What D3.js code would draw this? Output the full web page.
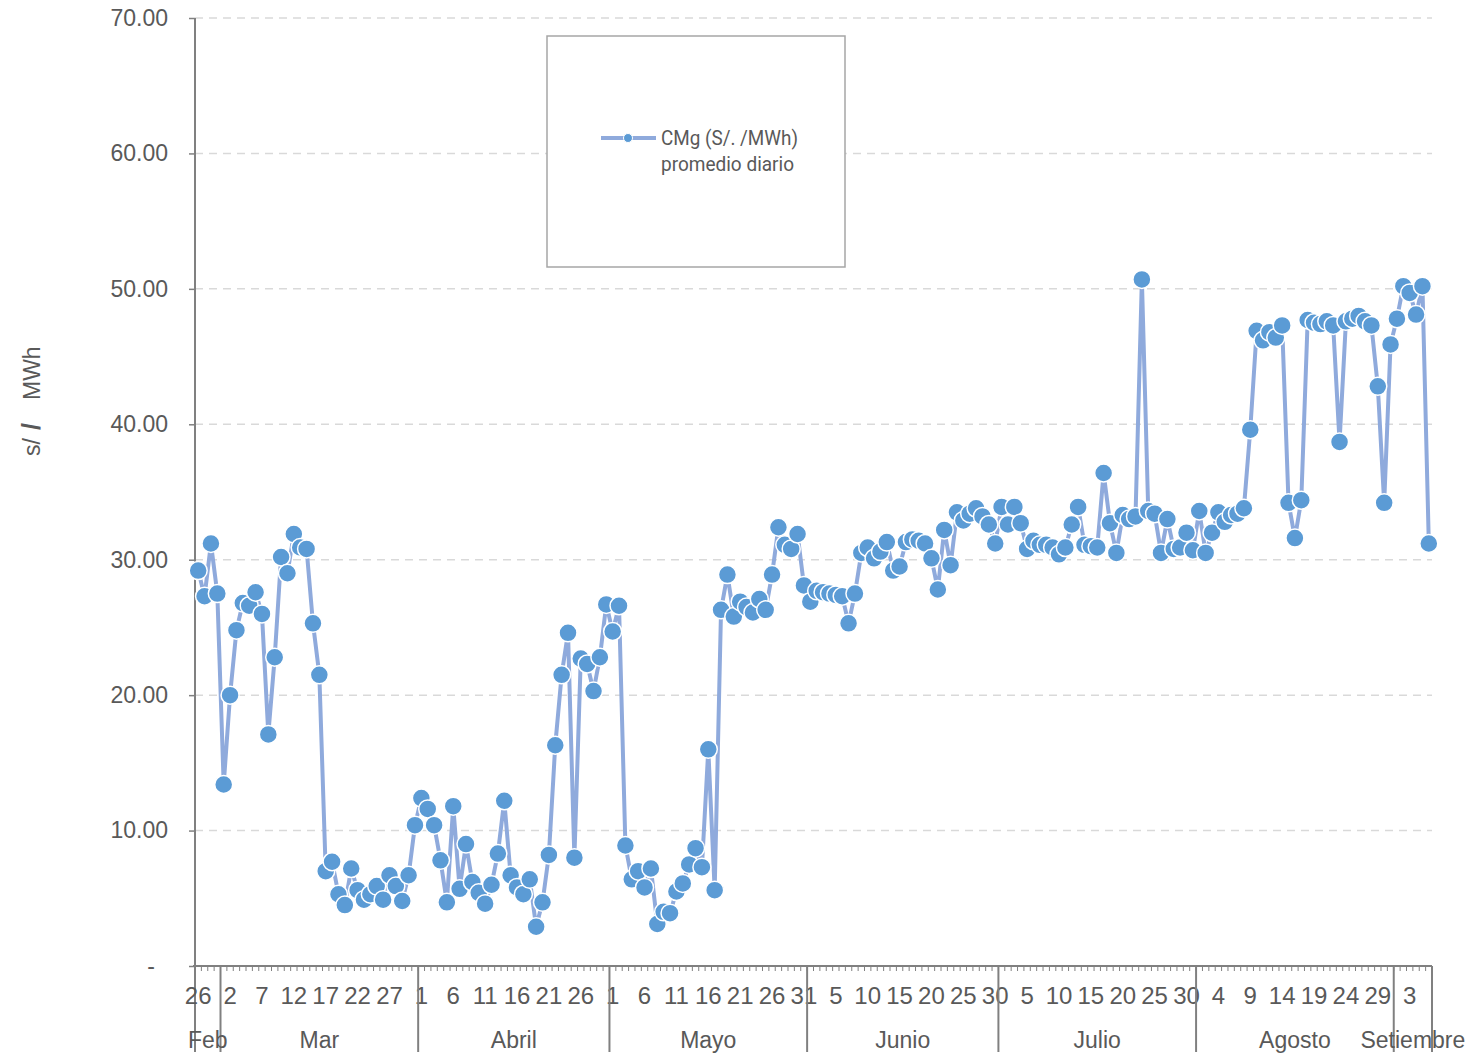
<!DOCTYPE html>
<html>
<head>
<meta charset="utf-8">
<script src="https://cdn.jsdelivr.net/npm/d3@7"></script>
<style>
    body { margin: 0; background: #fff; }
    text { font-family: "Liberation Sans", Arial, sans-serif; fill: #595959; }
</style>
</head>
<body>
<div class="chart"></div>
<script>
// CMg promedio diario (S/. /MWh), one value per day, 26 Feb - 6 Sep
let febValues = [29.2, 27.3, 31.2, 27.5];
let marValues = [13.4, 20.0, 24.8, 26.8, 26.6, 27.6, 26.0, 17.1, 22.8, 30.2,
    29.0, 31.9, 30.9, 30.8, 25.3, 21.5, 7.0, 7.7, 5.3, 4.5,
    7.2, 5.6, 4.9, 5.3, 5.9, 4.9, 6.7, 5.9, 4.8, 6.7, 10.4];
let aprValues = [12.4, 11.6, 10.4, 7.8, 4.7, 11.8, 5.7, 9.0, 6.2, 5.4,
    4.6, 6.0, 8.3, 12.2, 6.7, 5.8, 5.3, 6.4, 2.9, 4.7,
    8.2, 16.3, 21.5, 24.6, 8.0, 22.7, 22.3, 20.3, 22.8, 26.7];
let mayValues = [24.7, 26.6, 8.9, 6.4, 7.0, 5.8, 7.2, 3.1, 4.0, 3.9,
    5.5, 6.1, 7.5, 8.7, 7.3, 16.0, 5.6, 26.3, 28.9, 25.8,
    26.9, 26.5, 26.1, 27.1, 26.3, 28.9, 32.4, 31.1, 30.8, 31.9, 28.1];
let junValues = [26.9, 27.7, 27.6, 27.5, 27.4, 27.3, 25.3, 27.5, 30.5, 30.9,
    30.1, 30.6, 31.3, 29.2, 29.5, 31.3, 31.5, 31.4, 31.2, 30.1,
    27.8, 32.2, 29.6, 33.5, 32.9, 33.4, 33.8, 33.2, 32.6, 31.2];
let julValues = [33.9, 32.6, 33.9, 32.7, 30.8, 31.4, 31.1, 31.1, 30.9, 30.4,
    30.9, 32.6, 33.9, 31.1, 31.0, 30.9, 36.4, 32.7, 30.5, 33.3,
    33.0, 33.2, 50.7, 33.6, 33.4, 30.5, 33.0, 30.8, 30.9, 32.0, 30.7];
let augValues = [33.6, 30.5, 32.0, 33.5, 32.8, 33.3, 33.4, 33.8, 39.6, 46.9,
    46.2, 46.8, 46.4, 47.3, 34.2, 31.6, 34.4, 47.7, 47.5, 47.4,
    47.6, 47.3, 38.7, 47.6, 47.8, 48.0, 47.6, 47.3, 42.8, 34.2, 45.9];
let sepValues = [47.8, 50.2, 49.7, 48.1, 50.2, 31.2];

let monthNames = ["Feb", "Mar", "Abril", "Mayo", "Junio", "Julio", "Agosto", "Setiembre"];
let yTicks = [0, 10, 20, 30, 40, 50, 60, 70];
let seriesName = ["CMg (S/. /MWh)", "promedio diario"];

let values = [].concat(febValues, marValues, aprValues, mayValues,
    junValues, julValues, augValues, sepValues);

let firstDay = new Date(2016, 1, 26);
let days = d3.timeDay.range(firstDay, d3.timeDay.offset(firstDay, values.length));

let svgWidth = 1476;
let svgHeight = 1054;

let svg = d3.select(".chart")
    .append("svg")
    .attr("width", svgWidth)
    .attr("height", svgHeight);

let x = d3.scaleBand()
    .domain(d3.range(values.length))
    .range([195, 1432]);
let bw = x.bandwidth();
let cx = i => x(i) + bw / 2;

let y = d3.scaleLinear()
    .domain([0, 70])
    .range([966, 18]);

// grid lines
svg.append("g")
    .selectAll("line")
    .data(yTicks.filter(d => d > 0))
    .enter()
    .append("line")
    .attr("x1", 195)
    .attr("x2", 1432)
    .attr("y1", d => y(d))
    .attr("y2", d => y(d))
    .attr("stroke", "#d9d9d9")
    .attr("stroke-width", 1.5)
    .attr("stroke-dasharray", "8,6");

// y axis
let leftAxis = d3.axisLeft(y)
    .tickValues(yTicks)
    .tickSize(6)
    .tickPadding(21)
    .tickFormat(d => d === 0 ? "-" : d3.format(".2f")(d));

let yAxis = svg.append("g")
    .attr("transform", "translate(195,0)")
    .call(leftAxis);
yAxis.select(".domain").remove();
yAxis.selectAll("line").attr("stroke", "#808080").attr("stroke-width", 1.5);
yAxis.selectAll("text")
    .attr("fill", "#595959")
    .style("font-size", "23px")
    .style("font-family", "'Liberation Sans', Arial, sans-serif");
yAxis.selectAll("text").filter(d => d === 0).attr("x", -40);

svg.append("line")
    .attr("x1", 195).attr("x2", 195)
    .attr("y1", 18).attr("y2", 1052)
    .attr("stroke", "#808080").attr("stroke-width", 2);

// x axis: day ticks
let xAxisG = svg.append("g");
xAxisG.append("line")
    .attr("x1", 193).attr("x2", 1432)
    .attr("y1", 966).attr("y2", 966)
    .attr("stroke", "#808080").attr("stroke-width", 2);

xAxisG.selectAll(".dayTick")
    .data(d3.range(values.length + 1))
    .enter()
    .append("line")
    .attr("class", "dayTick")
    .attr("x1", i => 195 + i * bw)
    .attr("x2", i => 195 + i * bw)
    .attr("y1", 966)
    .attr("y2", 971)
    .attr("stroke", "#808080")
    .attr("stroke-width", 1);

xAxisG.selectAll(".dayLabel")
    .data(d3.range(0, values.length, 5))
    .enter()
    .append("text")
    .attr("class", "dayLabel")
    .attr("x", i => cx(i))
    .attr("y", 1004)
    .attr("text-anchor", "middle")
    .style("font-size", "24px")
    .text(i => days[i].getDate());

// month groups
let months = d3.groups(d3.range(values.length), i => days[i].getMonth())
    .map((g, k) => ({ name: monthNames[k], first: g[1][0], last: g[1][g[1].length - 1] }));

xAxisG.selectAll(".monthSep")
    .data(months)
    .enter()
    .append("line")
    .attr("class", "monthSep")
    .attr("x1", d => x(d.last) + bw)
    .attr("x2", d => x(d.last) + bw)
    .attr("y1", 966)
    .attr("y2", 1052)
    .attr("stroke", "#808080")
    .attr("stroke-width", 2);

xAxisG.selectAll(".monthLabel")
    .data(months)
    .enter()
    .append("text")
    .attr("class", "monthLabel")
    .attr("x", d => (x(d.first) + x(d.last) + bw) / 2)
    .attr("y", 1048)
    .attr("text-anchor", "middle")
    .style("font-size", "23px")
    .text(d => d.name);

// y axis title
let yTitle = svg.append("text")
    .attr("transform", "translate(40,456) rotate(-90)")
    .style("font-size", "23px");
yTitle.append("tspan").attr("x", 0).text("s/");
yTitle.append("tspan").attr("x", 26).style("font-weight", "bold").style("font-size", "25px").text("/");
yTitle.append("tspan").attr("x", 56).text("MWh");

// legend
let legend = svg.append("g");
legend.append("rect")
    .attr("x", 547).attr("y", 36)
    .attr("width", 298).attr("height", 231)
    .attr("fill", "#fff")
    .attr("stroke", "#a6a6a6")
    .attr("stroke-width", 1.5);
legend.append("line")
    .attr("x1", 601).attr("x2", 656)
    .attr("y1", 138).attr("y2", 138)
    .attr("stroke", "#8faadc")
    .attr("stroke-width", 4);
legend.append("circle")
    .attr("cx", 628).attr("cy", 138).attr("r", 4.5)
    .attr("fill", "#5b9bd5")
    .attr("stroke", "#fff")
    .attr("stroke-width", 1);
legend.selectAll(".legText")
    .data(seriesName)
    .enter()
    .append("text")
    .attr("class", "legText")
    .attr("x", 661)
    .attr("y", (d, k) => 145 + k * 26)
    .attr("textLength", (d, k) => k === 0 ? 137 : 133)
    .attr("lengthAdjust", "spacingAndGlyphs")
    .style("font-family", "Roboto, 'Liberation Sans', sans-serif")
    .style("font-size", "20px")
    .text(d => d);

// series line
let line = d3.line()
    .x((d, i) => cx(i))
    .y(d => y(d));

svg.append("path")
    .datum(values)
    .attr("d", line)
    .attr("fill", "none")
    .attr("stroke", "#8faadc")
    .attr("stroke-width", 4)
    .attr("stroke-linejoin", "round");

svg.append("g")
    .selectAll("circle")
    .data(values)
    .enter()
    .append("circle")
    .attr("cx", (d, i) => cx(i))
    .attr("cy", d => y(d))
    .attr("r", 9)
    .attr("fill", "#5b9bd5")
    .attr("stroke", "#fff")
    .attr("stroke-width", 1.5);
</script>
</body>
</html>
